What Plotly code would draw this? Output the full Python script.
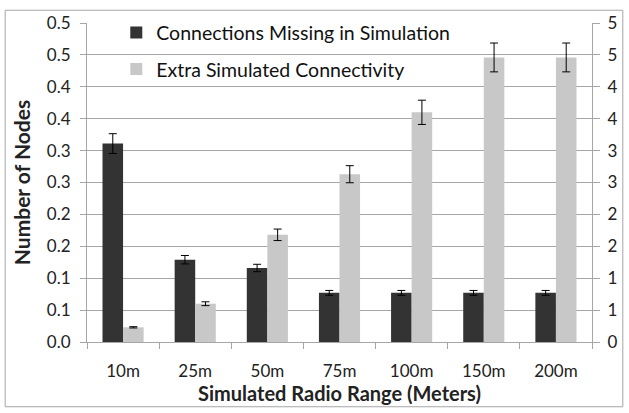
import plotly.graph_objects as go

# Radio range settings on the x axis
ranges = ["10m", "25m", "50m", "75m", "100m", "150m", "200m"]

# Mean number of nodes per series, with error bar half-widths
missing = [0.311, 0.129, 0.116, 0.077, 0.077, 0.077, 0.077]
missing_err = [0.0155, 0.0066, 0.0058, 0.0038, 0.0038, 0.0038, 0.0038]
extra = [0.023, 0.060, 0.168, 0.263, 0.360, 0.446, 0.446]
extra_err = [0.001, 0.003, 0.009, 0.0134, 0.019, 0.0226, 0.0226]

# Tick positions and their labels (rounded half-up, one decimal / whole numbers)
left_ticks = [0, 0.05, 0.1, 0.15, 0.2, 0.25, 0.3, 0.35, 0.4, 0.45, 0.5]
left_labels = ["0.0", "0.1", "0.1", "0.2", "0.2", "0.3", "0.3", "0.4", "0.4", "0.5", "0.5"]
right_ticks = [0, 0.5, 1, 1.5, 2, 2.5, 3, 3.5, 4, 4.5, 5]
right_labels = ["0", "1", "1", "2", "2", "3", "3", "4", "4", "5", "5"]

FONT = "Lato"
GRID = "#a6a6a6"

fig = go.Figure()
fig.add_trace(go.Bar(
    x=ranges, y=missing, name="Connections Missing in Simulation",
    marker=dict(color="#333333", line=dict(width=0)),
    error_y=dict(type="data", array=missing_err, color="black", thickness=1, width=4),
    legendgroup="a",
))
fig.add_trace(go.Bar(
    x=ranges, y=extra, name="Extra Simulated Connectivity",
    marker=dict(color="#c8c8c8", line=dict(width=0)),
    error_y=dict(type="data", array=extra_err, color="black", thickness=1, width=4),
    legendgroup="b",
))
# invisible trace so the secondary (right) axis is drawn
fig.add_trace(go.Scatter(x=ranges, y=[0] * len(ranges), yaxis="y2",
                         mode="markers", marker=dict(opacity=0),
                         showlegend=False, hoverinfo="skip"))

fig.update_layout(
    width=629, height=413,
    margin=dict(l=87, r=33, t=16, b=70),
    paper_bgcolor="white", plot_bgcolor="white",
    font=dict(family=FONT, size=17, color="#222222"),
    barmode="group", bargap=0.43, bargroupgap=0,
    showlegend=True,
    legend=dict(x=0.058, y=1.03, xanchor="left", yanchor="top",
                bgcolor="rgba(0,0,0,0)", font=dict(size=19.5, color="#111111"),
                traceorder="grouped", tracegroupgap=8),
    xaxis=dict(
        type="category", showgrid=False, showline=True, linecolor=GRID, linewidth=1,
        ticks="outside", tickson="boundaries", ticklen=6, tickcolor=GRID,
        tickfont=dict(size=17), ticklabelstandoff=14,
        title=dict(text="<b>Simulated Radio Range (Meters)</b>", font=dict(size=20), standoff=6),
    ),
    yaxis=dict(
        range=[0, 0.5], tickvals=left_ticks, ticktext=left_labels,
        showgrid=True, gridcolor=GRID, gridwidth=1,
        showline=True, linecolor=GRID, linewidth=1,
        ticks="outside", ticklen=6, tickcolor=GRID, zeroline=False,
        tickfont=dict(size=17), ticklabelstandoff=6,
        title=dict(text="<b>Number of Nodes</b>", font=dict(size=21), standoff=10),
    ),
    yaxis2=dict(
        overlaying="y", side="right", range=[0, 5],
        tickvals=right_ticks, ticktext=right_labels,
        showgrid=False, showline=True, linecolor=GRID, linewidth=1,
        ticks="outside", ticklen=7, tickcolor=GRID, zeroline=False,
        tickfont=dict(size=17), ticklabelstandoff=4,
    ),
    shapes=[dict(type="rect", xref="paper", yref="paper",
                 x0=-0.162, x1=1.061, y0=-0.203, y1=1.04,
                 line=dict(color="#a6a6a6", width=1), fillcolor="rgba(0,0,0,0)",
                 layer="below")],
)

fig.write_html("out.html")
